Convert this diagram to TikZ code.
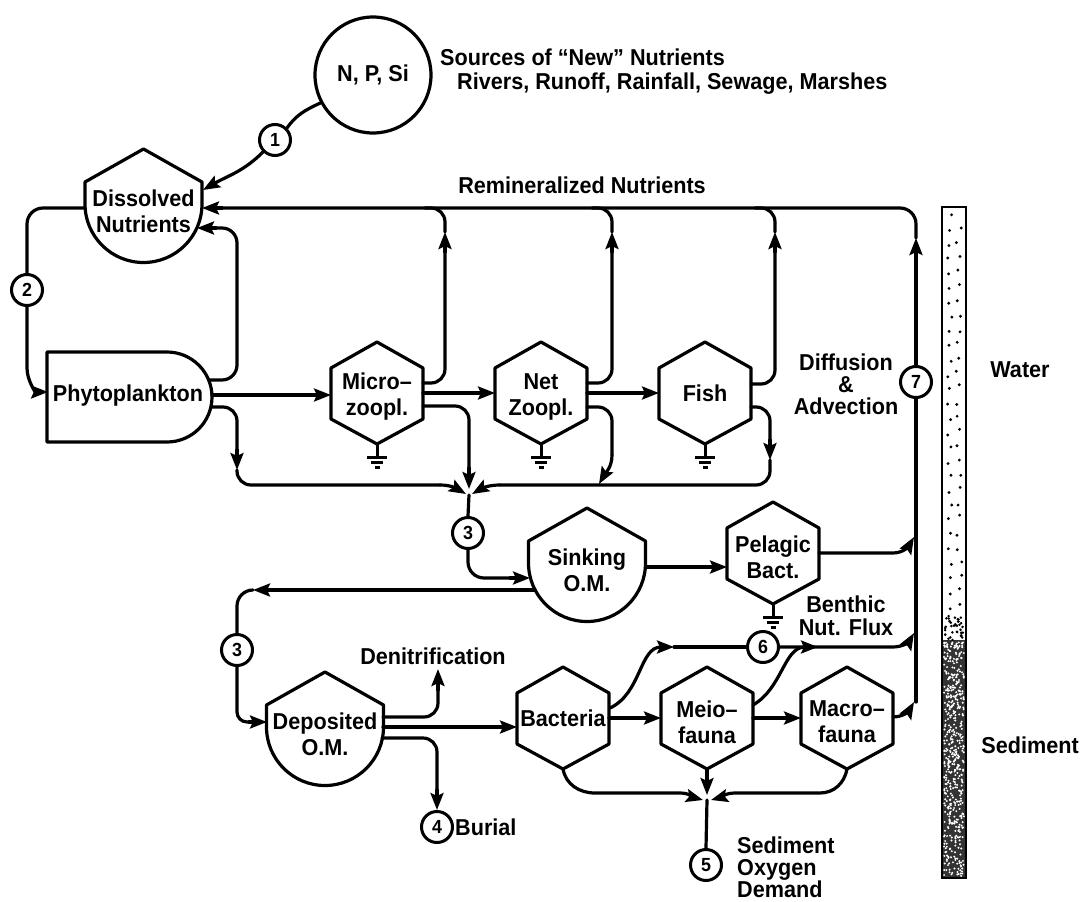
\documentclass[tikz,border=0pt]{standalone}
\usepackage{fontspec}
\newfontfamily\labfont{Liberation Sans Bold}[FakeStretch=0.94]
\usetikzlibrary{arrows.meta,calc}
\tikzset{
  ln/.style={line width=3.2pt, line cap=round, line join=round},
  arr/.style={ln, -{Stealth[length=17pt,width=13pt,inset=3pt]}},
  lab/.style={font=\labfont\fontsize{23}{26}\selectfont, inner sep=0pt, align=center},
  num/.style={circle, draw, line width=3pt, minimum size=31pt, inner sep=0pt, font=\labfont\fontsize{19}{19}\selectfont},
}
\newcommand\hexat[4]{%
  \coordinate (#1) at (#2,#3);
  \draw[ln] ($(#1)+(0,51)$) -- ($(#1)+(46,25)$) -- ($(#1)+(46,-26)$) -- ($(#1)+(0,-51)$) -- ($(#1)+(-46,-26)$) -- ($(#1)+(-46,25)$) -- cycle;
  \node[lab] (#1-t) at ($(#1)+(0,-4)$) {#4};}
\newcommand\tankat[4]{%
  \coordinate (#1) at (#2,#3);
  \draw[ln] ($(#1)+(-58.5,0)$) -- ($(#1)+(-58.5,22)$) -- ($(#1)+(0,55)$) -- ($(#1)+(58.5,22)$) -- ($(#1)+(58.5,0)$) arc[start angle=0,end angle=-180,radius=58.5] -- cycle;
  \node[lab] (#1-t) at ($(#1)+(0,-7.5)$) {#4};}
\newcommand\gndsym[1]{%
  \draw[line width=3pt] (#1) -- ++(0,-13);
  \draw[line width=3pt] ($(#1)+(-10,-13)$) -- ++(20,0);
  \draw[line width=3pt] ($(#1)+(-6,-18)$) -- ++(12,0);
  \draw[line width=3pt] ($(#1)+(-2.5,-23)$) -- ++(5,0);}
\begin{document}
\begin{tikzpicture}[x=1pt,y=1pt]
\useasboundingbox (0,0) rectangle (1082,-902);
% ---------- nodes
\node[circle, draw, ln, minimum size=116pt, inner sep=0pt, lab] (src) at (373,-75) {N, P, Si};
\node[lab, anchor=west] (srct1) at (440,-57) {Sources of “New” Nutrients};
\node[lab, anchor=west] (srct2) at (457,-84) {Rivers, Runoff, Rainfall, Sewage, Marshes};
\node[num] (c1) at (275,-140) {1};
\node[num] (c2) at (27,-290) {2};
\node[num] (c3) at (468,-533) {3};
\node[num] (c3b) at (237,-650) {3};
\node[num] (c4) at (437,-827) {4};
\node[num] (c5) at (706,-865) {5};
\node[num] (c6) at (763,-647) {6};
\node[num] (c7) at (916,-382) {7};

\tankat{dn}{143.5}{-204}{Dissolved\\Nutrients}
\tankat{sink}{587}{-563}{Sinking\\O.M.}
\tankat{dep}{325}{-727}{Deposited\\O.M.}

\draw[ln] (47,-352) -- (167,-352) arc[start angle=90,end angle=-90,radius=45] -- (47,-442) -- cycle;
\node[lab] (phyto) at (128,-396) {Phytoplankton};

\hexat{micro}{377}{-393}{Micro–\\zoopl.}
\hexat{net}{541}{-393}{Net\\Zoopl.}
\hexat{fish}{705}{-393}{}
\node[lab] (fish-l) at (705,-393) {Fish};
\hexat{pel}{773}{-553}{Pelagic\\Bact.}
\hexat{bac}{563}{-718}{}
\node[lab] (bac-l) at (563,-718) {Bacteria};
\hexat{meio}{707}{-718}{Meio–\\fauna}
\hexat{mac}{847}{-718}{Macro–\\fauna}

\gndsym{$(micro)+(0,-51)$}
\gndsym{$(net)+(0,-51)$}
\gndsym{$(fish)+(0,-51)$}
\gndsym{$(pel)+(0,-51)$}

% labels
\node[lab] (remin) at (582,-185) {Remineralized Nutrients};
\node[lab, font=\labfont\fontsize{23}{22}\selectfont] (diff) at (846,-384) {Diffusion\\\&\\Advection};
\node[lab] (water) at (1020,-370) {Water};
\node[lab, anchor=east] (sed) at (1079,-745) {Sediment};
\node[lab, font=\labfont\fontsize{23}{23}\selectfont] (benth) at (846,-616) {Benthic\\Nut. Flux};
\node[lab] (denit) at (433,-656) {Denitrification};
\node[lab, anchor=west] (burial) at (455,-827) {Burial};
\node[lab, anchor=west, align=left, font=\labfont\fontsize{23}{22}\selectfont] (sod) at (737,-867) {Sediment\\Oxygen\\Demand};

% ---------- connectors
\draw[ln] (src.208) to[out=205,in=55] (c1.north east);
\draw[arr] (c1.south west) to[out=225,in=30] (203,-190);
\draw[ln, rounded corners=16] (85,-208) -| (c2.north);
\draw[arr] (c2.south) -- (27,-368) to[out=-90,in=180] (48,-392);
% phyto
\draw[ln, rounded corners=15] (208.7,-380) -| (237,-228) -- (216,-228);
\draw[arr] (216,-228) -- (197,-228);
\draw[arr] (212,-395) -- ($(micro)+(-46,-2)$);
\draw[ln, rounded corners=14] (211,-407) -| (237,-450);
\draw[arr] (237,-450) -- (237,-470);
\coordinate (J) at (469,-495);
\draw[ln, rounded corners=14] (237,-470) |- (440,-485);
\draw[arr] (440,-485) to[out=0,in=150] ($(J)+(-3,1)$);
% micro
\draw[ln, rounded corners=14] ($(micro)+(46,10)$) -| (445,-252);
\draw[arr] (445,-252) -- (445,-232);
\draw[ln, rounded corners=14] (445,-232) |- (425,-208);
\draw[arr] ($(micro)+(46,0)$) -- ($(net)+(-46,0)$);
\draw[ln, rounded corners=14] ($(micro)+(46,-13)$) -| (469,-468);
\draw[arr] (469,-468) -- ($(J)+(0,6)$);
% net
\draw[ln, rounded corners=14] ($(net)+(46,10)$) -| (612,-252);
\draw[arr] (612,-252) -- (612,-232);
\draw[ln, rounded corners=14] (612,-232) |- (592,-208);
\draw[arr] ($(net)+(46,0)$) -- ($(fish)+(-46,0)$);
\draw[ln, rounded corners=14] ($(net)+(46,-14)$) -| (612,-455);
\draw[arr] (612,-455) to[out=-90,in=60] (599,-484);
% fish
\draw[ln, rounded corners=14] ($(fish)+(46,9)$) -| (775,-252);
\draw[arr] (775,-252) -- (775,-232);
\draw[ln, rounded corners=14] (775,-232) |- (755,-208);
\draw[ln, rounded corners=14] ($(fish)+(46,-14)$) -| (770,-440);
\draw[arr] (770,-440) -- (770,-460);
\draw[ln, rounded corners=14] (770,-460) |- (500,-485);
\draw[arr] (500,-485) to[out=180,in=30] ($(J)+(3,1)$);
\draw[ln] (J) -- (c3.north);
% top line & 7
\draw[ln] (916,-702) -- (c7.south);
\draw[arr] (c7.north) -- (916,-238);
\draw[ln, rounded corners=16] (916,-238) |- (222,-208);
\draw[arr] (222,-208) -- (202,-208);
% sinking
\draw[ln, rounded corners=16] (c3.south) |- (510,-578);
\draw[arr] (510,-578) -- (530,-578);
\draw[arr] (535,-590) -- (253,-590);
\draw[ln, rounded corners=16] (253,-590) -| (c3b.north);
\draw[ln, rounded corners=10] (c3b.south) |- (249,-722);
\draw[arr] (249,-722) -- (267,-722);
\draw[arr] (645.4,-567) -- ($(pel)+(-46,-14)$);
\draw[arr] ($(pel)+(46,0)$) -- (893,-553) to[out=0,in=-120] (914,-537);
% deposited
\draw[ln, rounded corners=14] (383,-717) -| (438,-690);
\draw[arr] (438,-690) -- (438,-669);
\draw[arr] (383,-727) -- ($(bac)+(-46,-9)$);
\draw[ln, rounded corners=14] (382,-738) -| (437,-790);
\draw[arr] (437,-790) -- (c4.north);
% benthic
\draw[arr] ($(bac)+(46,0)$) -- ($(meio)+(-46,0)$);
\draw[arr] ($(meio)+(46,0)$) -- ($(mac)+(-46,0)$);
\draw[arr] ($(bac)+(47,10)$) to[out=25,in=180] (674,-647);
\draw[ln] (674,-647) -- (c6.west);
\draw[arr] (c6.east) -- (893,-647) to[out=0,in=-120] (914,-633);
\draw[arr] ($(meio)+(46,13)$) to[out=30,in=180] (818,-647);
\draw[arr] ($(mac)+(46,1)$) to[out=0,in=-120] (914,-702);
\coordinate (K) at (707,-800);
\draw[arr] ($(bac)+(0,-51)$) to[out=-80,in=180] (595,-793) -- (680,-793) to[out=0,in=165] ($(K)+(-4,0)$);
\draw[arr] ($(meio)+(0,-51)$) -- ($(K)+(0,5)$);
\draw[arr] ($(mac)+(0,-51)$) to[out=-100,in=0] (820,-793) -- (735,-793) to[out=180,in=15] ($(K)+(4,0)$);
\draw[ln] (K) -- (c5.north);

% ---------- water / sediment bar
\fill[black!80] (943,-640) rectangle (965,-877);
\pgfmathsetseed{11}
\foreach \i in {1,...,520} {
  \pgfmathsetmacro\rx{944+20*rnd}
  \pgfmathsetmacro\ry{-642-234*rnd}
  \fill[white] (\rx,\ry) circle (1.1pt);
}
\foreach \j in {0,...,28} {
  \pgfmathsetmacro\ry{-218-14.5*\j}
  \pgfmathsetmacro\rxa{947+5*rnd}
  \pgfmathsetmacro\rxb{956+6*rnd}
  \pgfmathsetmacro\dya{4*rnd}
  \pgfmathsetmacro\dyb{-6*rnd}
  \fill[black] (\rxa,\ry+\dya) circle (1.6pt);
  \fill[black] (\rxb,\ry-7+\dyb) circle (1.6pt);
}
\foreach \i in {1,...,30} {
  \pgfmathsetmacro\rx{945+18*rnd}
  \pgfmathsetmacro\ry{-615-25*rnd}
  \fill[black] (\rx,\ry) circle (1.4pt);
}
\draw[line width=2.8pt] (942,-207) rectangle (966,-878);
\end{tikzpicture}
\end{document}
